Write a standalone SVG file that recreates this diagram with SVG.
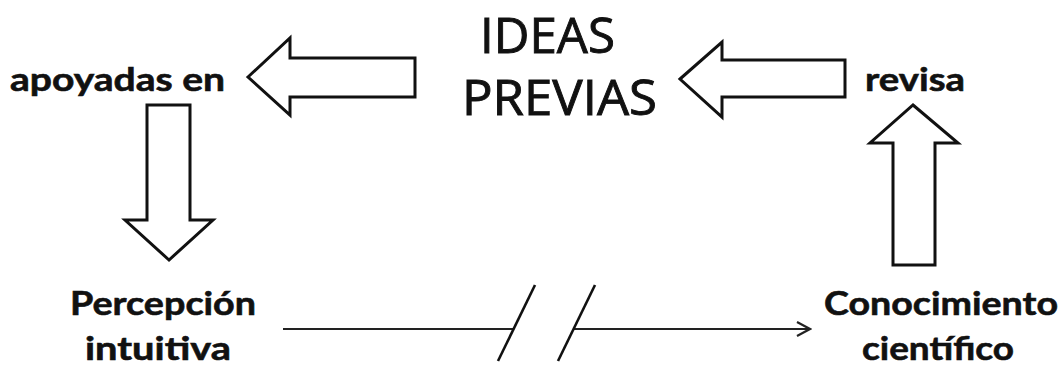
<svg xmlns="http://www.w3.org/2000/svg" width="1063" height="365" viewBox="0 0 1063 365">
<style>
.big{font-family:"Open Sans",Lato,"Liberation Sans",sans-serif;font-size:49px;font-weight:400;fill:#111;stroke:#111;stroke-width:0.9}
.lbl{font-family:Lato,"Open Sans","Liberation Sans",sans-serif;font-size:33px;font-weight:700;fill:#111;stroke:#111;stroke-width:0.6}
.blk{fill:#fff;stroke:#111;stroke-width:3;stroke-linejoin:miter}
.ln{fill:none;stroke:#222;stroke-width:2.2}
.sl{fill:none;stroke:#111;stroke-width:2.6}
</style>
<defs>
<marker id="chev" viewBox="0 0 16 16" refX="14" refY="8" markerWidth="16" markerHeight="16" markerUnits="userSpaceOnUse" orient="auto">
<path d="M1,1 L14,8 L1,15" fill="none" stroke="#222" stroke-width="2.2"/>
</marker>
</defs>
<rect width="1063" height="365" fill="#fff"/>
<g id="ideas-previas">
<text class="big" x="480" y="53" textLength="135" lengthAdjust="spacingAndGlyphs">IDEAS</text>
<text class="big" x="462" y="115" textLength="195" lengthAdjust="spacingAndGlyphs">PREVIAS</text>
</g>
<g id="apoyadas-en">
<text class="lbl" x="10" y="91" textLength="215" lengthAdjust="spacingAndGlyphs">apoyadas en</text>
</g>
<g id="revisa">
<text class="lbl" x="865" y="91" textLength="100" lengthAdjust="spacingAndGlyphs">revisa</text>
</g>
<g id="percepcion">
<text class="lbl" x="70" y="315" textLength="186" lengthAdjust="spacingAndGlyphs">Percepción</text>
<text class="lbl" x="85" y="360" textLength="146" lengthAdjust="spacingAndGlyphs">intuitiva</text>
</g>
<g id="conocimiento">
<text class="lbl" x="824" y="315" textLength="234" lengthAdjust="spacingAndGlyphs">Conocimiento</text>
<text class="lbl" x="862" y="360" textLength="152" lengthAdjust="spacingAndGlyphs">científico</text>
</g>
<g id="connectors">
<path class="blk" d="M248,77 L290,38 L290,58 L415,58 L415,97 L290,97 L290,115 Z"/>
<path class="blk" d="M680,79 L722,42 L722,60 L845,60 L845,97 L722,97 L722,117 Z"/>
<path class="blk" d="M169,260 L125,220 L147,220 L147,105 L190,105 L190,220 L213,220 Z"/>
<path class="blk" d="M913,105 L958,143 L935,143 L935,265 L893,265 L893,143 L870,143 Z"/>
<line class="ln" x1="283" y1="329" x2="513" y2="329"/>
<line class="ln" x1="574" y1="329" x2="810" y2="329" marker-end="url(#chev)"/>
<line class="sl" x1="498" y1="361" x2="535" y2="285"/>
<line class="sl" x1="558" y1="361" x2="595" y2="285"/>
</g>
</svg>
